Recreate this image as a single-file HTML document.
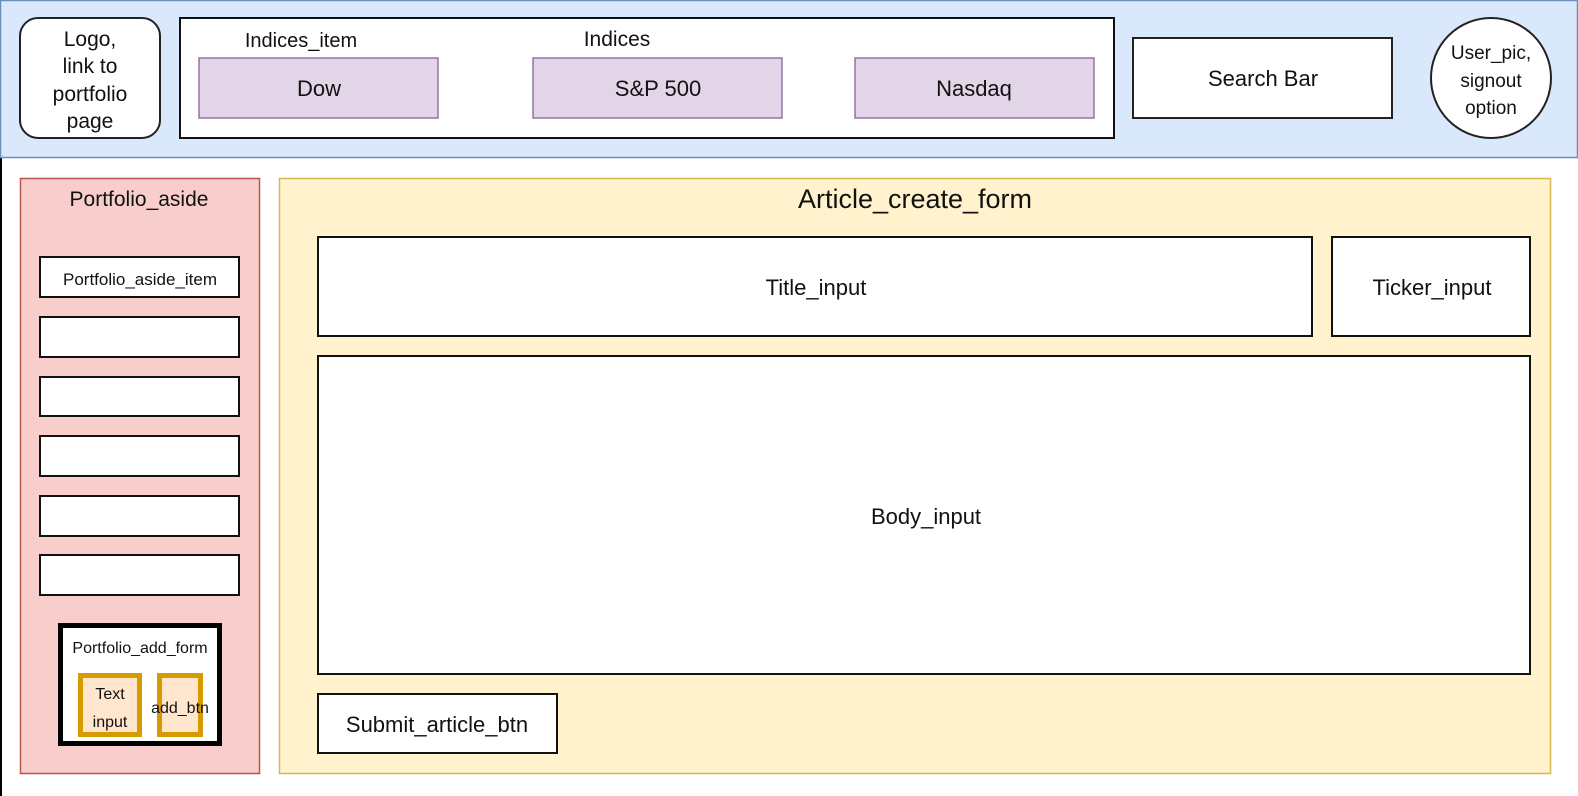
<!DOCTYPE html>
<html><head><style>
html,body{margin:0;padding:0;background:#fff;}
svg{display:block}
text{font-family:"Liberation Sans",sans-serif;fill:#111;}
</style></head><body>
<svg width="1578" height="796" viewBox="0 0 1578 796" xmlns="http://www.w3.org/2000/svg">
<rect x="0" y="0" width="1578" height="796" fill="#fff"/>
<line x1="1" y1="158" x2="1" y2="796" stroke="#000" stroke-width="2"/>
<rect x="0.5" y="0.5" width="1577" height="157" fill="#dae8fc" stroke="#6c8ebf" stroke-width="1.5"/>
<rect x="20" y="18" width="140" height="120" rx="18" fill="#fff" stroke="#222" stroke-width="2"/>
<g font-size="21" text-anchor="middle">
<text x="90" y="46">Logo,</text><text x="90" y="73">link to</text><text x="90" y="101">portfolio</text><text x="90" y="128">page</text>
</g>
<rect x="180" y="18" width="934" height="120" fill="#fff" stroke="#111" stroke-width="2"/>
<text x="301" y="47" font-size="20" text-anchor="middle">Indices_item</text>
<text x="617" y="46" font-size="21" text-anchor="middle">Indices</text>
<g fill="#e1d5e7" stroke="#9673a6" stroke-width="1.5">
<rect x="199" y="58" width="239" height="60"/><rect x="533" y="58" width="249" height="60"/><rect x="855" y="58" width="239" height="60"/>
</g>
<g font-size="22" text-anchor="middle">
<text x="319" y="96">Dow</text><text x="658" y="96">S&amp;P 500</text><text x="974" y="96">Nasdaq</text>
</g>
<rect x="1133" y="38" width="259" height="80" fill="#fff" stroke="#222" stroke-width="2"/>
<text x="1263" y="86" font-size="22" text-anchor="middle">Search Bar</text>
<circle cx="1491" cy="78" r="60" fill="#fff" stroke="#222" stroke-width="2"/>
<g font-size="19" text-anchor="middle">
<text x="1491" y="59">User_pic,</text><text x="1491" y="87">signout</text><text x="1491" y="114">option</text>
</g>
<rect x="20.5" y="178.5" width="239" height="595" fill="#f8cecc" stroke="#b85450" stroke-width="1.5"/>
<text x="139" y="206" font-size="21" text-anchor="middle">Portfolio_aside</text>
<g fill="#fff" stroke="#111" stroke-width="2">
<rect x="40" y="257" width="199" height="40"/><rect x="40" y="317" width="199" height="40"/><rect x="40" y="377" width="199" height="39"/><rect x="40" y="436" width="199" height="40"/><rect x="40" y="496" width="199" height="40"/><rect x="40" y="555" width="199" height="40"/>
</g>
<text x="140" y="285" font-size="17" text-anchor="middle">Portfolio_aside_item</text>
<rect x="60.5" y="625.5" width="159" height="118" fill="#fff" stroke="#000" stroke-width="5"/>
<text x="140" y="653" font-size="16" text-anchor="middle">Portfolio_add_form</text>
<g fill="#ffe6cc" stroke="#d79b00" stroke-width="5">
<rect x="80.5" y="675.5" width="59" height="59"/><rect x="159.5" y="675.5" width="41" height="59"/>
</g>
<g font-size="16" text-anchor="middle">
<text x="110" y="699">Text</text><text x="110" y="727">input</text><text x="180" y="713">add_btn</text>
</g>
<rect x="279.5" y="178.5" width="1271" height="595" fill="#fff2cc" stroke="#d6b656" stroke-width="1.5"/>
<text x="915" y="208" font-size="27" text-anchor="middle">Article_create_form</text>
<g fill="#fff" stroke="#111" stroke-width="2">
<rect x="318" y="237" width="994" height="99"/><rect x="1332" y="237" width="198" height="99"/><rect x="318" y="356" width="1212" height="318"/><rect x="318" y="694" width="239" height="59"/>
</g>
<g font-size="22" text-anchor="middle">
<text x="816" y="295">Title_input</text><text x="1432" y="295">Ticker_input</text><text x="926" y="524">Body_input</text><text x="437" y="732">Submit_article_btn</text>
</g>
</svg>
</body></html>
